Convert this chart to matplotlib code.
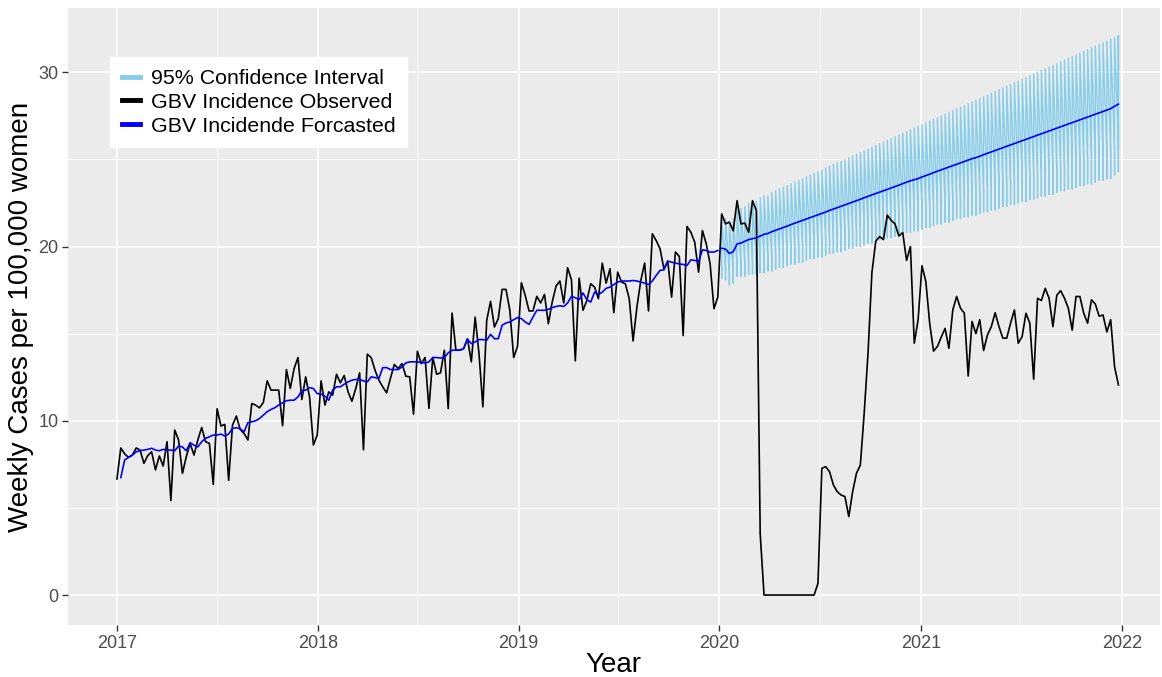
import numpy as np
import pandas as pd
import matplotlib
matplotlib.use("Agg")
import matplotlib.pyplot as plt
import matplotlib.dates as mdates
from matplotlib.ticker import MultipleLocator

plt.rcParams['font.family'] = ['Liberation Sans', 'DejaVu Sans']

# weekly observed incidence (per 100,000 women), first week of 2017 onwards
observed = [
    6.66, 8.44, 8.10, 7.90, 8.03, 8.44, 8.32, 7.56, 8.00, 8.22,
    7.18, 7.98, 7.40, 8.80, 5.42, 9.47, 8.90, 6.98, 7.94, 8.70,
    8.03, 8.90, 9.62, 8.80, 8.70, 6.35, 10.69, 9.70, 9.79, 6.58,
    9.75, 10.27, 9.50, 9.27, 8.90, 10.99, 10.90, 10.74, 11.05, 12.29,
    11.76, 11.76, 11.76, 9.71, 12.94, 11.85, 13.00, 13.63, 11.22, 12.52,
    11.37, 8.61, 9.18, 12.29, 10.90, 11.66, 11.47, 12.67, 12.18, 12.60,
    11.66, 11.12, 11.85, 12.75, 8.33, 13.82, 13.63, 12.90, 12.33, 11.95,
    11.60, 12.43, 13.23, 13.00, 13.28, 12.56, 12.52, 10.38, 13.99, 13.28,
    13.63, 10.71, 13.63, 12.67, 12.75, 14.05, 10.70, 16.18, 14.05, 14.05,
    14.14, 14.71, 13.38, 15.95, 13.85, 10.80, 15.76, 16.85, 15.38, 15.86,
    17.54, 17.54, 16.34, 13.63, 14.27, 17.92, 17.19, 16.30, 16.30, 17.14,
    16.76, 17.25, 15.57, 16.81, 17.73, 18.02, 16.76, 18.78, 18.09, 13.44,
    18.19, 16.34, 16.90, 17.86, 17.67, 17.00, 19.05, 17.90, 18.72, 16.20,
    18.53, 17.96, 17.86, 17.00, 14.58, 16.53, 18.05, 19.05, 16.30, 20.73,
    20.34, 19.87, 18.72, 19.16, 17.10, 19.68, 19.43, 14.90, 21.15, 20.82,
    20.25, 18.53, 20.92, 20.15, 19.00, 16.43, 17.10, 21.87, 21.30, 21.40,
    20.90, 22.63, 21.30, 21.34, 20.82, 22.63, 22.06, 3.50, 0.00, 0.00,
    0.00, 0.00, 0.00, 0.00, 0.00, 0.00, 0.00, 0.00, 0.00, 0.00,
    0.00, 0.00, 0.67, 7.27, 7.37, 7.08, 6.32, 5.93, 5.74, 5.65,
    4.50, 5.93, 6.99, 7.46, 10.43, 13.90, 18.50, 20.30, 20.57, 20.40,
    21.80, 21.50, 21.30, 20.60, 20.80, 19.20, 20.00, 14.45, 15.80, 18.90,
    18.00, 15.60, 14.00, 14.26, 14.80, 15.30, 14.16, 16.36, 17.13, 16.46,
    16.17, 12.57, 15.70, 15.00, 15.80, 14.03, 14.93, 15.40, 16.20, 15.40,
    14.74, 14.74, 15.60, 16.36, 14.45, 14.83, 16.17, 15.60, 12.38, 17.03,
    16.90, 17.60, 17.03, 15.40, 17.20, 17.47, 17.03, 16.46, 15.20, 17.13,
    17.13, 16.17, 15.60, 16.94, 16.70, 16.00, 16.07, 15.10, 15.80, 13.10,
    12.06,
]

# in-sample fitted values (week 2 of 2017 to end of 2019)
fitted = [
    6.74, 7.75, 7.90, 8.03, 8.22, 8.28, 8.32, 8.36, 8.42, 8.32,
    8.28, 8.36, 8.32, 8.32, 8.28, 8.55, 8.50, 8.28, 8.74, 8.60,
    8.50, 8.80, 8.99, 9.08, 9.18, 9.18, 9.24, 9.12, 9.24, 9.56,
    9.60, 9.54, 9.37, 9.89, 9.94, 10.00, 10.13, 10.32, 10.52, 10.65,
    10.75, 10.90, 11.03, 11.15, 11.18, 11.18, 11.37, 11.72, 11.76, 11.90,
    11.85, 11.56, 11.53, 11.41, 11.18, 11.76, 11.95, 11.95, 12.10, 12.23,
    12.33, 12.37, 12.37, 12.29, 12.23, 12.52, 12.48, 12.42, 13.05, 13.05,
    12.94, 12.94, 12.94, 13.09, 13.32, 13.38, 13.38, 13.38, 13.34, 13.32,
    13.38, 13.63, 13.63, 13.60, 13.63, 13.90, 14.05, 14.05, 14.05, 14.14,
    14.68, 14.43, 14.52, 14.66, 14.66, 14.62, 14.96, 14.71, 14.71, 15.48,
    15.61, 15.67, 15.80, 15.92, 15.86, 15.67, 15.53, 15.95, 16.34, 16.34,
    16.34, 16.40, 16.49, 16.56, 16.60, 16.56, 16.76, 17.14, 17.06, 16.95,
    17.33, 16.95, 16.81, 17.38, 17.25, 17.38, 17.60, 17.67, 17.82, 17.96,
    18.02, 18.02, 18.02, 18.05, 18.02, 17.96, 17.90, 17.82, 18.02, 18.34,
    18.63, 18.66, 19.16, 19.10, 19.05, 19.00, 18.97, 18.91, 19.24, 19.20,
    19.14, 19.81, 19.77, 19.68, 19.68, 19.77,
]

# point forecast, 2020-2021
forecast = [
    19.90, 19.85, 19.60, 19.70, 20.15, 20.20, 20.30, 20.40, 20.45, 20.50,
    20.60, 20.70, 20.75, 20.85, 20.93, 21.01, 21.09, 21.17, 21.26, 21.34,
    21.42, 21.50, 21.58, 21.66, 21.74, 21.82, 21.90, 21.98, 22.07, 22.15,
    22.23, 22.31, 22.39, 22.47, 22.55, 22.63, 22.71, 22.80, 22.88, 22.96,
    23.04, 23.12, 23.20, 23.28, 23.36, 23.44, 23.52, 23.61, 23.69, 23.77,
    23.83, 23.90, 23.99, 24.07, 24.15, 24.24, 24.32, 24.40, 24.48, 24.56,
    24.64, 24.72, 24.80, 24.88, 24.96, 25.04, 25.10, 25.18, 25.27, 25.35,
    25.43, 25.51, 25.59, 25.67, 25.75, 25.83, 25.91, 25.99, 26.07, 26.15,
    26.23, 26.31, 26.39, 26.47, 26.55, 26.63, 26.71, 26.79, 26.87, 26.95,
    27.03, 27.11, 27.19, 27.27, 27.35, 27.43, 27.51, 27.59, 27.67, 27.75,
    27.83, 27.91, 28.05, 28.17,
]

hi95 = [
    21.6, 21.6, 21.4, 21.6, 22.1, 22.2, 22.3, 22.5, 22.6, 22.6,
    22.8, 22.9, 22.9, 23.1, 23.2, 23.3, 23.4, 23.5, 23.6, 23.7,
    23.8, 23.9, 24.0, 24.1, 24.2, 24.3, 24.4, 24.5, 24.6, 24.7,
    24.8, 24.9, 25.0, 25.1, 25.2, 25.3, 25.4, 25.5, 25.6, 25.7,
    25.8, 25.9, 26.0, 26.1, 26.2, 26.3, 26.4, 26.5, 26.6, 26.7,
    26.8, 26.9, 27.0, 27.1, 27.2, 27.3, 27.4, 27.5, 27.6, 27.7,
    27.8, 27.9, 28.0, 28.1, 28.2, 28.3, 28.4, 28.5, 28.6, 28.7,
    28.8, 28.9, 29.0, 29.1, 29.2, 29.3, 29.4, 29.5, 29.6, 29.7,
    29.8, 29.9, 30.0, 30.1, 30.2, 30.3, 30.4, 30.5, 30.6, 30.7,
    30.8, 30.9, 31.0, 31.1, 31.2, 31.3, 31.4, 31.5, 31.6, 31.7,
    31.8, 31.9, 32.0, 32.1,
]
lo95 = [
    18.2, 18.1, 17.8, 17.9, 18.3, 18.3, 18.3, 18.4, 18.4, 18.4,
    18.5, 18.5, 18.6, 18.6, 18.7, 18.8, 18.8, 18.9, 19.0, 19.0,
    19.1, 19.1, 19.2, 19.3, 19.3, 19.4, 19.4, 19.5, 19.6, 19.6,
    19.7, 19.7, 19.8, 19.9, 19.9, 20.0, 20.0, 20.1, 20.2, 20.2,
    20.3, 20.4, 20.4, 20.5, 20.5, 20.6, 20.7, 20.7, 20.8, 20.8,
    20.9, 20.9, 21.0, 21.1, 21.1, 21.2, 21.3, 21.3, 21.4, 21.4,
    21.5, 21.6, 21.6, 21.7, 21.7, 21.8, 21.8, 21.9, 22.0, 22.0,
    22.1, 22.1, 22.2, 22.3, 22.3, 22.4, 22.4, 22.5, 22.6, 22.6,
    22.7, 22.7, 22.8, 22.9, 22.9, 23.0, 23.0, 23.1, 23.2, 23.2,
    23.3, 23.3, 23.4, 23.5, 23.5, 23.6, 23.6, 23.7, 23.8, 23.8,
    23.9, 23.9, 24.1, 24.3,
]
hi80 = [
    21.0, 21.0, 20.8, 20.9, 21.4, 21.5, 21.6, 21.7, 21.8, 21.9,
    22.0, 22.1, 22.2, 22.3, 22.4, 22.5, 22.6, 22.7, 22.8, 22.9,
    23.0, 23.0, 23.1, 23.2, 23.3, 23.4, 23.5, 23.6, 23.7, 23.8,
    23.9, 24.0, 24.1, 24.2, 24.3, 24.4, 24.5, 24.6, 24.6, 24.7,
    24.8, 24.9, 25.0, 25.1, 25.2, 25.3, 25.4, 25.5, 25.6, 25.7,
    25.8, 25.8, 25.9, 26.0, 26.1, 26.2, 26.3, 26.4, 26.5, 26.6,
    26.7, 26.8, 26.9, 27.0, 27.1, 27.2, 27.2, 27.3, 27.4, 27.5,
    27.6, 27.7, 27.8, 27.9, 28.0, 28.1, 28.2, 28.3, 28.4, 28.4,
    28.5, 28.6, 28.7, 28.8, 28.9, 29.0, 29.1, 29.2, 29.3, 29.4,
    29.5, 29.6, 29.7, 29.8, 29.8, 29.9, 30.0, 30.1, 30.2, 30.3,
    30.4, 30.5, 30.6, 30.8,
]
lo80 = [
    18.8, 18.7, 18.4, 18.5, 18.9, 18.9, 19.0, 19.1, 19.1, 19.1,
    19.2, 19.3, 19.3, 19.4, 19.5, 19.6, 19.6, 19.7, 19.8, 19.8,
    19.9, 20.0, 20.0, 20.1, 20.2, 20.2, 20.3, 20.4, 20.4, 20.5,
    20.6, 20.6, 20.7, 20.8, 20.8, 20.9, 21.0, 21.1, 21.1, 21.2,
    21.3, 21.3, 21.4, 21.5, 21.5, 21.6, 21.7, 21.7, 21.8, 21.9,
    21.9, 22.0, 22.1, 22.1, 22.2, 22.3, 22.3, 22.4, 22.5, 22.5,
    22.6, 22.7, 22.7, 22.8, 22.9, 22.9, 23.0, 23.0, 23.1, 23.2,
    23.3, 23.3, 23.4, 23.5, 23.5, 23.6, 23.7, 23.7, 23.8, 23.9,
    23.9, 24.0, 24.1, 24.1, 24.2, 24.3, 24.3, 24.4, 24.5, 24.5,
    24.6, 24.7, 24.7, 24.8, 24.9, 24.9, 25.0, 25.1, 25.1, 25.2,
    25.3, 25.3, 25.5, 25.6,
]

weeks = pd.date_range("2017-01-01", periods=len(observed), freq="7D")
fit_weeks = weeks[1:1 + len(fitted)]
fc_weeks = weeks[len(weeks) - len(forecast):]

# the interval is one path that runs Lo80, Hi80, Lo95, Hi95 at every week
ci_x = np.repeat(fc_weeks.values, 4)
ci_y = np.column_stack([lo80, hi80, lo95, hi95]).ravel()

fig = plt.figure(figsize=(11.62, 6.77), dpi=100)
ax = fig.add_axes([0.0585, 0.0768, 0.9395, 0.9112])
ax.set_facecolor('#EBEBEB')

ax.plot(ci_x, ci_y, color='#87CEEB', lw=1.0, label='95% Confidence Interval')
ax.plot(weeks, observed, color='black', lw=1.2, label='GBV Incidence Observed')
ax.plot(fit_weeks, fitted, color='#0000FF', lw=1.2, label='GBV Incidende Forcasted')
ax.plot(fc_weeks, forecast, color='#0000FF', lw=1.2)

ax.set_xlim(pd.Timestamp('2016-10-04'), pd.Timestamp('2022-03-11'))
ax.set_ylim(-1.72, 33.68)

ax.xaxis.set_major_locator(mdates.YearLocator())
ax.xaxis.set_major_formatter(mdates.DateFormatter('%Y'))
ax.xaxis.set_minor_locator(mdates.MonthLocator(bymonth=7))
ax.yaxis.set_major_locator(MultipleLocator(10))
ax.yaxis.set_minor_locator(MultipleLocator(5))

ax.grid(which='major', color='white', lw=1.1)
ax.grid(which='minor', color='white', lw=0.55)
ax.set_axisbelow(True)
for s in ax.spines.values():
    s.set_visible(False)
ax.tick_params(which='major', length=4, width=1, color='#333333',
               labelsize=13, labelcolor='#4D4D4D', pad=3)
ax.tick_params(which='minor', length=0)

ax.set_xlabel('Year', fontsize=20, labelpad=0)
ax.set_ylabel('Weekly Cases per 100,000 women', fontsize=20)
ax.yaxis.set_label_coords(-0.031, 0.5)

leg = ax.legend(loc='upper left', bbox_to_anchor=(0.0385, 0.92),
                borderaxespad=0, fontsize=15.4, frameon=True, fancybox=False,
                handlelength=0.85, handletextpad=0.5, labelspacing=0.22,
                borderpad=0.55)
leg.get_frame().set_facecolor('white')
leg.get_frame().set_edgecolor('white')
leg.get_frame().set_alpha(1)
for line in leg.get_lines():
    line.set_linewidth(3.5)

fig.savefig('out.png', dpi=100)
